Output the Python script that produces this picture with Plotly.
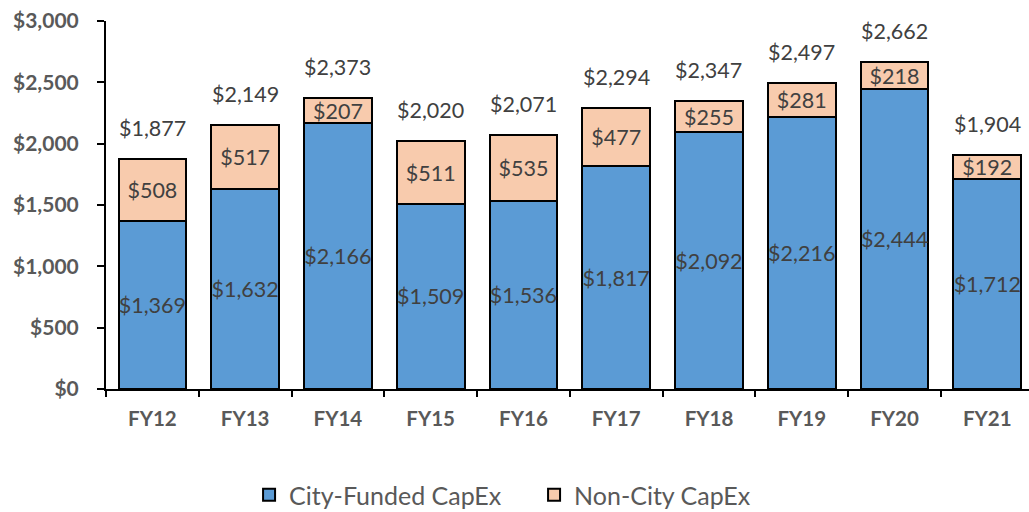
import plotly.graph_objects as go

categories = ["FY12", "FY13", "FY14", "FY15", "FY16", "FY17", "FY18", "FY19", "FY20", "FY21"]
city_funded = [1369, 1632, 2166, 1509, 1536, 1817, 2092, 2216, 2444, 1712]
non_city = [508, 517, 207, 511, 535, 477, 255, 281, 218, 192]
totals = [1877, 2149, 2373, 2020, 2071, 2294, 2347, 2497, 2662, 1904]
y_ticks = [0, 500, 1000, 1500, 2000, 2500, 3000]

FONT = "Lato"
LABEL_COLOR = "#404040"
TICK_COLOR = "#595959"

def money(v):
    return "${:,}".format(v)

fig = go.Figure()
for vals, name, color in [(city_funded, "City-Funded CapEx", "#5B9BD5"),
                          (non_city, "Non-City CapEx", "#F8CBAD")]:
    fig.add_trace(go.Bar(
        x=categories, y=vals, name=name,
        marker=dict(color=color, line=dict(color="black", width=2)),
        text=[money(v) for v in vals], textposition="inside", textangle=0,
        insidetextanchor="middle", constraintext="none",
        textfont=dict(family=FONT, size=21.5, color=LABEL_COLOR),
        cliponaxis=False, hoverinfo="skip",
    ))

for c, t in zip(categories, totals):
    fig.add_annotation(x=c, y=t, text=money(t), showarrow=False,
                       yshift=31, yanchor="middle",
                       font=dict(family=FONT, size=21.5, color=LABEL_COLOR))

fig.update_layout(
    barmode="stack", bargap=0.27,
    width=1029, height=512,
    margin=dict(l=106, r=0, t=21, b=123, autoexpand=False),
    plot_bgcolor="white", paper_bgcolor="white",
    legend=dict(orientation="h", x=0.155, xanchor="left",
                yref="container", y=(512 - 495) / 512, yanchor="middle",
                entrywidth=240, entrywidthmode="pixels",
                font=dict(family=FONT, size=25, color=TICK_COLOR), traceorder="normal"),
    showlegend=True,
)
fig.update_xaxes(
    range=[-0.5, 9.45], showline=True, linecolor="black", linewidth=2,
    ticks="outside", tickson="boundaries", ticklen=6, tickcolor="black", tickwidth=2,
    ticklabelstandoff=10,
    tickfont=dict(family=FONT, size=20.5, color=TICK_COLOR, weight="bold"),
    showgrid=False,
)
fig.update_yaxes(
    range=[0, 3000], tickvals=y_ticks, ticktext=[money(v) for v in y_ticks],
    showline=True, linecolor="black", linewidth=2,
    ticks="outside", ticklen=7, tickcolor="black", tickwidth=2,
    ticklabelstandoff=14,
    tickfont=dict(family=FONT, size=21, color=TICK_COLOR, weight="bold"),
    showgrid=False, zeroline=False,
)

fig.write_html("out.html", config={"displayModeBar": False},
               post_script="document.body.style.margin='0';document.body.style.overflow='hidden';")
